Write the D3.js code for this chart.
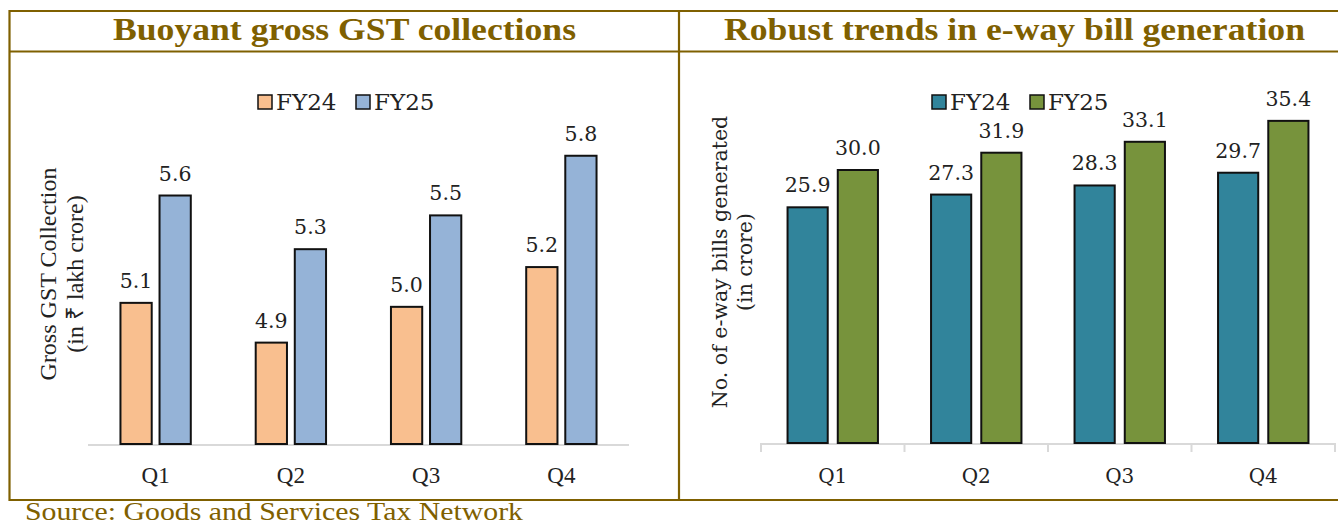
<!DOCTYPE html>
<html>
<head>
<meta charset="utf-8">
<script src="https://cdn.jsdelivr.net/npm/d3@7"></script>
<style>
  body { margin: 0; background: #fff; }
  svg { display: block; }
</style>
</head>
<body>
<div id="chart"></div>
<script>
var quarters = ["Q1", "Q2", "Q3", "Q4"];
var seriesNames = ["FY24", "FY25"];

// gross GST collections, Rs lakh crore
var gstFY24 = [5.06, 4.86, 5.04, 5.24];
var gstFY25 = [5.6, 5.33, 5.5, 5.8];

// e-way bills generated, crore
var ewbFY24 = [25.9, 27.3, 28.3, 29.7];
var ewbFY25 = [30.0, 31.9, 33.1, 35.4];

var gold = "#7f6000";
var times = "'Liberation Serif', 'Times New Roman', serif";
var cambria = "'DejaVu Serif', serif";
var W = 1338, H = 526;

var svg = d3.select("#chart").append("svg")
    .attr("width", W)
    .attr("height", H);

// frame
var frame = svg.append("g").attr("stroke", gold).attr("stroke-width", 2.2);
frame.append("line").attr("x1", 9).attr("x2", W + 2).attr("y1", 11).attr("y2", 11);
frame.append("line").attr("x1", 9).attr("x2", W + 2).attr("y1", 51.5).attr("y2", 51.5);
frame.append("line").attr("x1", 9).attr("x2", W + 2).attr("y1", 500).attr("y2", 500);
frame.append("line").attr("x1", 9.5).attr("x2", 9.5).attr("y1", 10).attr("y2", 501);
frame.append("line").attr("x1", 679).attr("x2", 679).attr("y1", 10).attr("y2", 501);

svg.append("text")
    .attr("x", 25)
    .attr("y", 520)
    .attr("textLength", 498)
    .attr("lengthAdjust", "spacingAndGlyphs")
    .style("font-family", times)
    .style("font-size", "25px")
    .style("fill", gold)
    .text("Source: Goods and Services Tax Network");

function drawPanel(opt) {
  var g = svg.append("g");

  g.append("text")
      .attr("x", opt.titleX)
      .attr("y", 40)
      .attr("textLength", opt.titleW)
      .attr("lengthAdjust", "spacingAndGlyphs")
      .style("font-family", times)
      .style("font-weight", "bold")
      .style("font-size", "32px")
      .style("fill", gold)
      .text(opt.title);

  var data = quarters.map(function(q, i) {
    return {q: q, values: [
      {s: seriesNames[0], v: opt.a[i]},
      {s: seriesNames[1], v: opt.b[i]}
    ]};
  });

  var x0 = d3.scaleBand()
      .domain(quarters)
      .range(opt.xRange)
      .paddingInner(opt.pad)
      .paddingOuter(opt.pad / 2);

  var x1 = d3.scaleBand()
      .domain(seriesNames)
      .range([0, x0.bandwidth()])
      .paddingInner(0.2);

  var y = d3.scaleLinear()
      .domain(opt.yDomain)
      .range([opt.base, opt.top]);

  var color = d3.scaleOrdinal().domain(seriesNames).range(opt.colors);

  // baseline
  g.append("line")
      .attr("x1", opt.xRange[0]).attr("x2", opt.xRange[1])
      .attr("y1", opt.base + 1).attr("y2", opt.base + 1)
      .attr("stroke", "#d9d9d9").attr("stroke-width", 2);

  if (opt.ticks) {
    var step = x0.step();
    var edges = quarters.map(function(q) { return x0(q) - step * opt.pad / 2; });
    edges.push(opt.xRange[1]);
    g.selectAll(".tick").data(edges).enter().append("line")
        .attr("x1", function(d) { return d; }).attr("x2", function(d) { return d; })
        .attr("y1", opt.base).attr("y2", opt.base + 9)
        .attr("stroke", "#d9d9d9").attr("stroke-width", 2);
  }

  var groups = g.selectAll(".grp")
      .data(data)
    .enter().append("g")
      .attr("transform", function(d) { return "translate(" + x0(d.q) + ",0)"; });

  groups.selectAll("rect")
      .data(function(d) { return d.values; })
    .enter().append("rect")
      .attr("x", function(d) { return x1(d.s); })
      .attr("y", function(d) { return y(d.v); })
      .attr("width", x1.bandwidth())
      .attr("height", function(d) { return opt.base - y(d.v); })
      .attr("fill", function(d) { return color(d.s); })
      .attr("stroke", "#111")
      .attr("stroke-width", 2);

  groups.selectAll(".val")
      .data(function(d) { return d.values; })
    .enter().append("text")
      .attr("x", function(d) { return x1(d.s) + x1.bandwidth() / 2; })
      .attr("y", function(d) { return y(d.v) - 15; })
      .attr("text-anchor", "middle")
      .style("font-family", cambria)
      .style("font-size", "20.5px")
      .style("fill", "#222")
      .text(function(d) { return d.v.toFixed(1); });

  // category labels
  g.selectAll(".cat")
      .data(quarters)
    .enter().append("text")
      .attr("x", function(d) { return x0(d) + x0.bandwidth() / 2; })
      .attr("y", 483)
      .attr("text-anchor", "middle")
      .style("font-family", opt.catFont)
      .style("font-size", opt.catSize)
      .style("fill", "#222")
      .text(function(d) { return d; });

  // y label, two lines
  var yl = g.append("text")
      .attr("transform", "translate(" + opt.yLabelX + "," + opt.yLabelY + ") rotate(-90)")
      .attr("text-anchor", "middle")
      .style("font-family", opt.yLabelFont)
      .style("font-size", opt.yLabelSize)
      .style("fill", "#222");
  opt.yLabel.forEach(function(line, i) {
    yl.append("tspan").attr("x", 0).attr("dy", i === 0 ? 0 : opt.yLabelGap).text(line);
  });

  // legend
  var lg = g.append("g").attr("transform", "translate(" + opt.legendX + ",102)");
  var item = lg.selectAll(".li")
      .data(seriesNames)
    .enter().append("g")
      .attr("transform", function(d, i) { return "translate(" + (i * opt.legendStep) + ",0)"; });
  item.append("rect")
      .attr("x", 0).attr("y", -7)
      .attr("width", 14).attr("height", 14)
      .attr("fill", function(d) { return color(d); })
      .attr("stroke", "#111").attr("stroke-width", 1.5);
  item.append("text")
      .attr("x", 18).attr("y", 8)
      .style("font-family", cambria)
      .style("font-size", "23px")
      .style("fill", "#222")
      .text(function(d) { return d; });
}

drawPanel({
  title: "Buoyant gross GST collections",
  titleX: 113, titleW: 463,
  a: gstFY24, b: gstFY25,
  colors: ["#f9bf8f", "#95b3d7"],
  xRange: [88, 629],
  pad: 0.48,
  yDomain: [4.35, 6.0],
  base: 444, top: 116,
  ticks: false,
  catFont: times, catSize: "23px",
  yLabel: ["Gross GST Collection", "(in \u20b9 lakh crore)"],
  yLabelFont: times, yLabelGap: 27,
  yLabelX: 56, yLabelY: 274, yLabelSize: "24px",
  legendX: 258, legendStep: 98
});

drawPanel({
  title: "Robust trends in e-way bill generation",
  titleX: 724, titleW: 581,
  a: ewbFY24, b: ewbFY25,
  colors: ["#31849b", "#77933c"],
  xRange: [761, 1335],
  pad: 0.37,
  yDomain: [0, 40],
  base: 443, top: 79,
  ticks: true,
  catFont: cambria, catSize: "20px",
  yLabel: ["No. of e-way bills generated", "(in crore)"],
  yLabelFont: cambria, yLabelGap: 25,
  yLabelX: 727, yLabelY: 262, yLabelSize: "20.5px",
  legendX: 932, legendStep: 98
});
</script>
</body>
</html>
